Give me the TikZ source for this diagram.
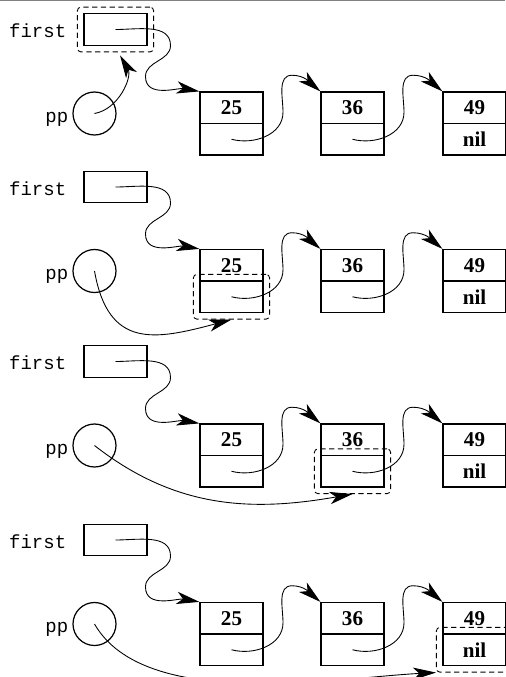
\documentclass[tikz,border=0pt]{standalone}
\usepackage{fontspec}
\setmainfont{Liberation Serif}
\setmonofont{Liberation Mono}
\usepackage{tikz}
\usetikzlibrary{arrows.meta, fit, calc}

\tikzset{
  box/.style={draw, line width=0.7pt, minimum width=1.26cm, minimum height=0.63cm, inner sep=0pt},
  num/.style={box, font=\bfseries\fontsize{12}{14}\selectfont},
  ptr/.style={draw, circle, line width=0.7pt, minimum size=0.86cm, inner sep=0pt},
  tt/.style={font=\ttfamily\fontsize{10.8}{13}\selectfont, inner sep=0pt, anchor=base east},
  link/.style={-{Stealth[length=13pt, width=7pt, inset=3.5pt]}, line width=0.5pt},
  sel/.style={draw, densely dashed, rounded corners=2pt, inner sep=0.12cm, line width=0.5pt},
}

\begin{document}
\begin{tikzpicture}[x=0.02cm, y=-0.02cm]
        \useasboundingbox (0,0) rectangle (505,677);
        \draw[gray, line width=0.6pt] (0,0.5) -- (505,0.5);

        % the same list in every panel
        \foreach \i/\o in {1/0, 2/157.5, 3/332, 4/510.5} {
            \node[tt] (lf\i) at (66.5, 37.5+\o) {first};
            \node[box] (f\i) at (115.5, 29.5+\o) {};
            \node[tt] (lp\i) at (68.5, 122+\o) {pp};
            \node[ptr] (p\i) at (94.5, 113.5+\o) {};

            \node[num] (v25-\i) at (231.5, 107.75+\o) {25};
            \node[box] (n25-\i) at (231.5, 139.25+\o) {};
            \node[num] (v36-\i) at (352.5, 107.75+\o) {36};
            \node[box] (n36-\i) at (352.5, 139.25+\o) {};
            \node[num] (v49-\i) at (474.5, 107.75+\o) {49};
            \node[num] (n49-\i) at (474.5, 139.25+\o) {nil};

            \draw[link] (f\i.center) to[out=0,in=90] ++(55,16)
                to[out=-90,in=90] ++(-25,31)
                to[out=-90,in=170] (v25-\i.north west);
            \draw[link] (n25-\i.center) to[out=-15,in=-90] ++(51.5,-27)
                to[out=90,in=180] ++(9,-37)
                to[out=0,in=140] (v36-\i.north west);
            \draw[link] (n36-\i.center) to[out=-15,in=-90] ++(51.5,-27)
                to[out=90,in=180] ++(9,-37)
                to[out=0,in=140] (v49-\i.north west);
        }

        % where pp points
        \node[sel, fit=(f1)] (s1) {};
        \node[sel, fit=(n25-2)] (s2) {};
        \node[sel, fit=(n36-3)] (s3) {};
        \node[sel, fit=(n49-4)] (s4) {};

        \draw[link] (p1.center) to[out=10,in=-60] ($(s1.south)+(4.5,3)$);
        \draw[link] (p2.center) to[out=-80,in=195,looseness=1.4] (s2.south);
        \draw[link] (p3.center) to[out=-38,in=190] (s3.south);
        \draw[link] (p4.center) to[out=-60,in=183,looseness=0.75] (s4.south west);
\end{tikzpicture}
\end{document}
